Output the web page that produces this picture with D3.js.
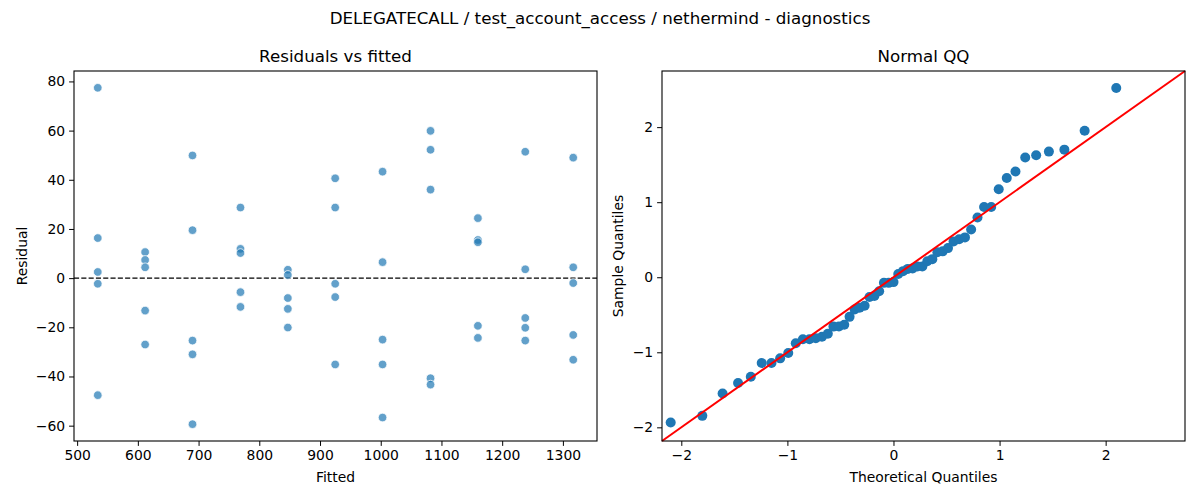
<!DOCTYPE html>
<html>
<head>
<meta charset="utf-8">
<script src="https://cdn.jsdelivr.net/npm/d3@7"></script>
<style>
  body { margin: 0; background: #fff; }
  text { font-family: "DejaVu Sans", sans-serif; fill: #000; }
  .tick text { font-size: 13.9px; }
  .tick line, .domain { stroke: #000; }
</style>
</head>
<body>
<script>
// fitted levels (x of each column of points in the left panel)
var fittedLevels = [534, 612, 690, 769, 847, 925, 1003, 1082, 1160, 1238, 1317];

// residuals read for each fitted level, same order
var residualGroups = [
  [77.4, 16.3, 2.5, -2.3, -47.6],
  [10.6, 7.4, 4.4, -13.2, -27.0],
  [49.9, 19.5, -25.4, -31.0, -59.4],
  [28.7, 11.9, 10.2, -5.7, -11.7],
  [3.4, 1.3, -8.1, -12.5, -20.1],
  [40.6, 28.7, -2.3, -7.7, -35.1],
  [43.3, 6.5, -25.0, -35.1, -56.7],
  [59.9, 52.2, 36.0, -40.7, -43.3],
  [24.4, 15.5, 14.6, -19.4, -24.3],
  [51.4, 3.6, -16.2, -20.2, -25.4],
  [49.0, 4.4, -2.0, -23.1, -33.2]
];

// normal QQ: theoretical vs sample quantiles
var theoretical = [-2.100, -1.802, -1.611, -1.465, -1.345, -1.242, -1.150, -1.068, -0.992, -0.921,
  -0.854, -0.792, -0.732, -0.674, -0.619, -0.566, -0.514, -0.464, -0.414, -0.366,
  -0.319, -0.272, -0.226, -0.180, -0.135, -0.090, -0.045, 0, 0.045, 0.090,
  0.135, 0.180, 0.226, 0.272, 0.319, 0.366, 0.414, 0.464, 0.514, 0.566,
  0.619, 0.674, 0.732, 0.792, 0.854, 0.921, 0.992, 1.068, 1.150, 1.242,
  1.345, 1.465, 1.611, 1.802, 2.100];
var sample = [-1.935, -1.847, -1.550, -1.410, -1.326, -1.143, -1.143, -1.081, -1.010, -0.879,
  -0.827, -0.827, -0.814, -0.792, -0.752, -0.658, -0.655, -0.632, -0.528, -0.430,
  -0.407, -0.381, -0.264, -0.251, -0.186, -0.075, -0.075, -0.065, 0.042, 0.081,
  0.111, 0.117, 0.143, 0.143, 0.212, 0.241, 0.332, 0.345, 0.388, 0.476,
  0.505, 0.531, 0.635, 0.795, 0.935, 0.935, 1.173, 1.322, 1.410, 1.596,
  1.625, 1.674, 1.700, 1.951, 2.521];

var xTicksLeft = [500, 600, 700, 800, 900, 1000, 1100, 1200, 1300];
var yTicksLeft = [-60, -40, -20, 0, 20, 40, 60, 80];
var ticksQQ = [-2, -1, 0, 1, 2];

var W = 1200, H = 500;
var svg = d3.select("body").append("svg")
            .attr("width", W)
            .attr("height", H);

// titre general
svg.append("text")
   .attr("x", 600).attr("y", 24)
   .attr("text-anchor", "middle")
   .style("font-size", "16.7px")
   .text("DELEGATECALL / test_account_access / nethermind - diagnostics");

var plotTop = 71, plotBottom = 441;
var fmt = d3.format("d");

// ---------- Panneau gauche : residus ----------
var L = {left: 74, right: 597};
var points = [];
fittedLevels.forEach(function(f, i) {
  residualGroups[i].forEach(function(r) { points.push({f: f, r: r}); });
});

var fx = d3.extent(fittedLevels), fpad = (fx[1] - fx[0]) * 0.05;
var x1 = d3.scaleLinear().domain([fx[0] - fpad, fx[1] + fpad]).range([L.left, L.right]);
var ry = d3.extent(points, d => d.r), rpad = (ry[1] - ry[0]) * 0.05;
var y1 = d3.scaleLinear().domain([ry[0] - rpad, ry[1] + rpad]).range([plotBottom, plotTop]);

var g1 = svg.append("g");

g1.append("line")
  .attr("x1", L.left).attr("x2", L.right)
  .attr("y1", y1(0)).attr("y2", y1(0))
  .attr("stroke", "#000").attr("stroke-width", 1.3)
  .attr("stroke-dasharray", "5.1,2.2");

g1.selectAll("circle.res")
  .data(points)
  .enter().append("circle")
  .attr("class", "res")
  .attr("cx", d => x1(d.f))
  .attr("cy", d => y1(d.r))
  .attr("r", 4.3)
  .attr("fill", "#1f77b4")
  .attr("fill-opacity", 0.7)
  .attr("stroke", "#fff")
  .attr("stroke-width", 0.75);

g1.append("g")
  .attr("transform", "translate(0," + plotBottom + ")")
  .call(d3.axisBottom(x1).tickValues(xTicksLeft).tickFormat(fmt).tickSize(4.9).tickPadding(4).tickSizeOuter(0));
g1.append("g")
  .attr("transform", "translate(" + L.left + ",0)")
  .call(d3.axisLeft(y1).tickValues(yTicksLeft).tickFormat(fmt).tickSize(4.9).tickPadding(4).tickSizeOuter(0));

g1.append("rect")
  .attr("x", L.left).attr("y", plotTop)
  .attr("width", L.right - L.left).attr("height", plotBottom - plotTop)
  .attr("fill", "none").attr("stroke", "#000").attr("stroke-width", 1.1);

g1.append("text")
  .attr("x", (L.left + L.right) / 2).attr("y", 62)
  .attr("text-anchor", "middle").style("font-size", "16.7px")
  .text("Residuals vs fitted");
g1.append("text")
  .attr("x", (L.left + L.right) / 2).attr("y", 482)
  .attr("text-anchor", "middle").style("font-size", "13.9px")
  .text("Fitted");
g1.append("text")
  .attr("transform", "translate(27," + (plotTop + plotBottom) / 2 + ") rotate(-90)")
  .attr("text-anchor", "middle").style("font-size", "13.9px")
  .text("Residual");

// ---------- Panneau droit : QQ normal ----------
var R = {left: 662, right: 1185};
var qqDomain = [-2.182, 2.748];
var x2 = d3.scaleLinear().domain(qqDomain).range([R.left, R.right]);
var y2 = d3.scaleLinear().domain(qqDomain).range([plotBottom, plotTop]);

var g2 = svg.append("g");

g2.selectAll("circle.qq")
  .data(theoretical)
  .enter().append("circle")
  .attr("class", "qq")
  .attr("cx", d => x2(d))
  .attr("cy", (d, i) => y2(sample[i]))
  .attr("r", 5)
  .attr("fill", "#1f77b4");

// droite 45 degres
g2.append("line")
  .attr("x1", x2(qqDomain[0])).attr("y1", y2(qqDomain[0]))
  .attr("x2", x2(qqDomain[1])).attr("y2", y2(qqDomain[1]))
  .attr("stroke", "red").attr("stroke-width", 2);

g2.append("g")
  .attr("transform", "translate(0," + plotBottom + ")")
  .call(d3.axisBottom(x2).tickValues(ticksQQ).tickFormat(fmt).tickSize(4.9).tickPadding(4).tickSizeOuter(0));
g2.append("g")
  .attr("transform", "translate(" + R.left + ",0)")
  .call(d3.axisLeft(y2).tickValues(ticksQQ).tickFormat(fmt).tickSize(4.9).tickPadding(4).tickSizeOuter(0));

g2.append("rect")
  .attr("x", R.left).attr("y", plotTop)
  .attr("width", R.right - R.left).attr("height", plotBottom - plotTop)
  .attr("fill", "none").attr("stroke", "#000").attr("stroke-width", 1.1);

g2.append("text")
  .attr("x", (R.left + R.right) / 2).attr("y", 62)
  .attr("text-anchor", "middle").style("font-size", "16.7px")
  .text("Normal QQ");
g2.append("text")
  .attr("x", (R.left + R.right) / 2).attr("y", 482)
  .attr("text-anchor", "middle").style("font-size", "13.9px")
  .text("Theoretical Quantiles");
g2.append("text")
  .attr("transform", "translate(623," + (plotTop + plotBottom) / 2 + ") rotate(-90)")
  .attr("text-anchor", "middle").style("font-size", "13.9px")
  .text("Sample Quantiles");

g1.selectAll(".domain").remove();
g2.selectAll(".domain").remove();
</script>
</body>
</html>
